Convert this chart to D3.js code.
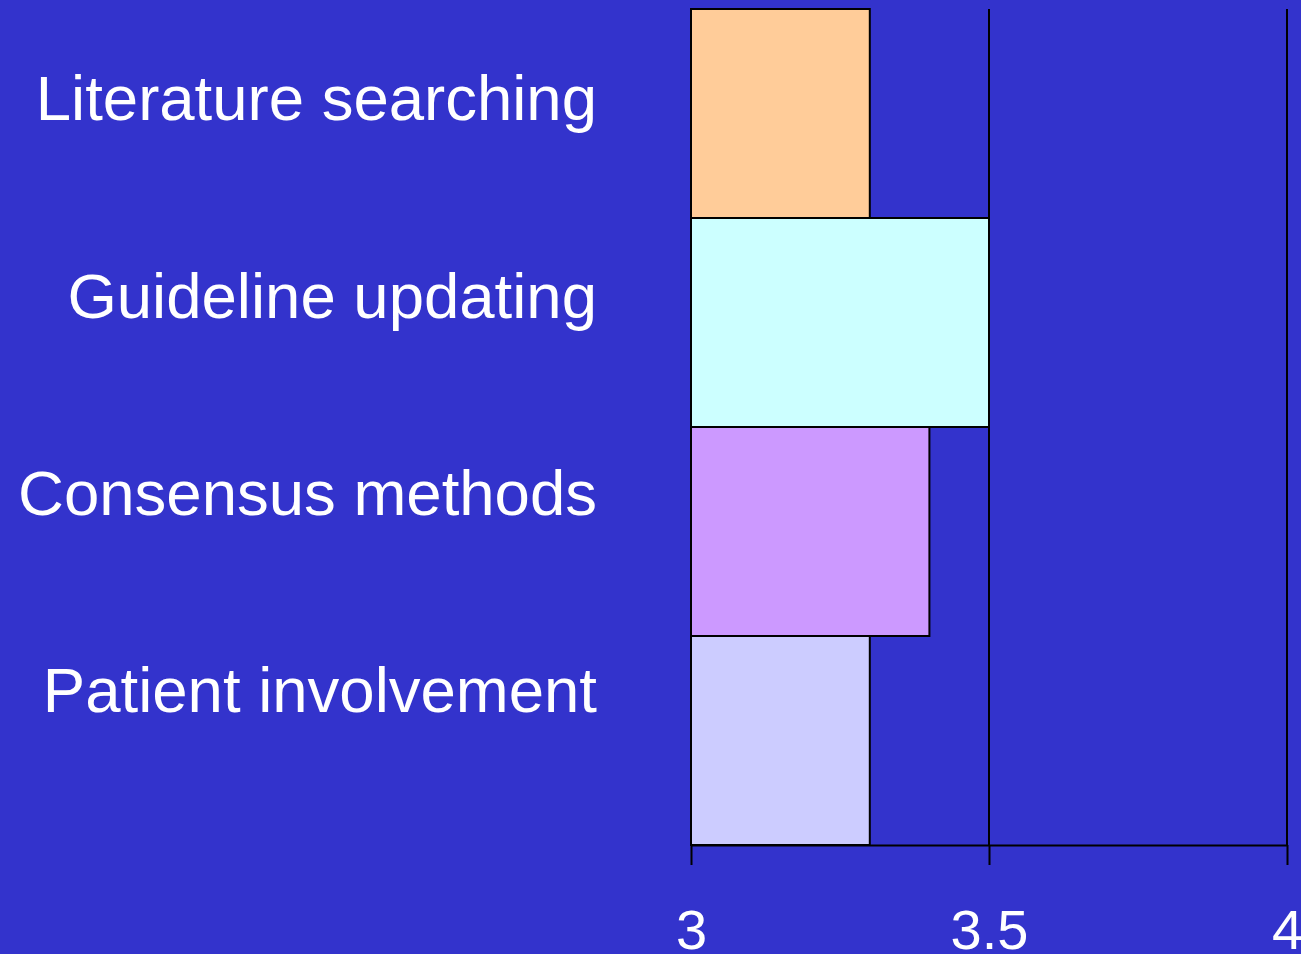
<!DOCTYPE html>
<html>
<head>
<meta charset="utf-8">
<script src="https://cdn.jsdelivr.net/npm/d3@7"></script>
<style>
  html, body { margin: 0; padding: 0; background: #3333cc; overflow: hidden; }
  svg { display: block; font-family: "Liberation Sans", Arial, sans-serif; }
</style>
</head>
<body>
<div id="chart"></div>
<script>
// data
const categories = ["Literature searching", "Guideline updating", "Consensus methods", "Patient involvement"];
const values = [3.3, 3.5, 3.4, 3.3];
const barColors = ["#ffcc99", "#ccffff", "#cc99ff", "#ccccff"];
const tickValues = [3, 3.5, 4];

const width = 1301;
const height = 954;

const svg = d3
  .select("#chart")
  .append("svg")
  .attr("width", width)
  .attr("height", height);

svg.append("rect").attr("width", width).attr("height", height).attr("fill", "#3333cc");

const x = d3.scaleLinear().domain([3, 4]).range([691, 1287]);

const y = d3.scaleBand().domain(categories).range([9, 845]).padding(0);

// labels sit a bit higher than the bar centres
const yLabel = d3.scalePoint().domain(categories).range([98, 690]);

// gridlines (skip the baseline)
svg
  .append("g")
  .selectAll("line")
  .data(tickValues.slice(1))
  .enter()
  .append("line")
  .attr("x1", (d) => x(d))
  .attr("x2", (d) => x(d))
  .attr("y1", 9)
  .attr("y2", 845)
  .attr("stroke", "#000")
  .attr("stroke-width", 2);

// bars
svg
  .append("g")
  .selectAll("rect")
  .data(categories)
  .enter()
  .append("rect")
  .attr("x", x(3))
  .attr("y", (d) => y(d))
  .attr("width", (d, i) => x(values[i]) - x(3))
  .attr("height", y.bandwidth())
  .attr("fill", (d, i) => barColors[i])
  .attr("stroke", "#000")
  .attr("stroke-width", 2);

// x axis
const xAxis = svg
  .append("g")
  .attr("transform", `translate(0, 845)`)
  .call(d3.axisBottom(x).tickValues(tickValues).tickSize(20).tickSizeOuter(0).tickPadding(44).tickFormat(d3.format("")));

xAxis.select(".domain").attr("stroke", "#000").attr("stroke-width", 2);
xAxis.selectAll(".tick line").attr("stroke", "#000").attr("stroke-width", 2);
xAxis
  .selectAll(".tick text")
  .attr("fill", "#fff")
  .style("font-size", "56px")
  .style("font-family", "'Liberation Sans', Arial, sans-serif");

// category labels
svg
  .append("g")
  .selectAll("text")
  .data(categories)
  .enter()
  .append("text")
  .attr("x", 597)
  .attr("y", (d) => yLabel(d))
  .attr("dy", "0.35em")
  .attr("text-anchor", "end")
  .attr("fill", "#fff")
  .style("font-size", "63.5px")
  .text((d) => d);
</script>
</body>
</html>
